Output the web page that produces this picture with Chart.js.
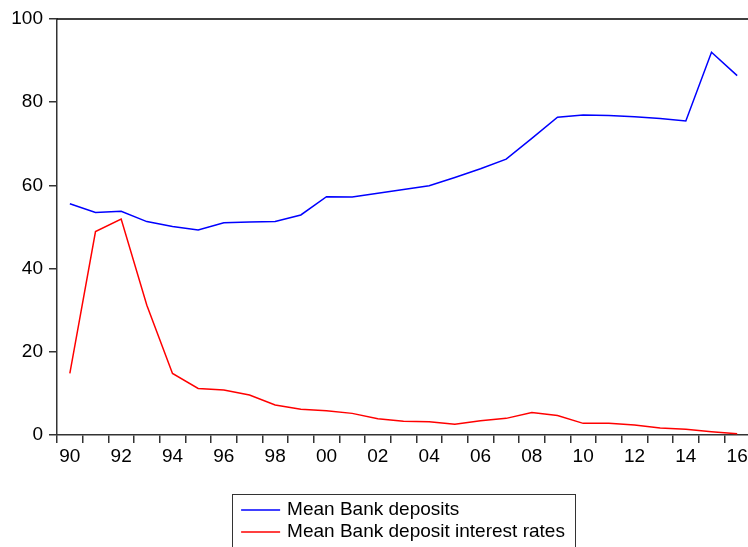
<!DOCTYPE html>
<html>
<head>
<meta charset="utf-8">
<script src="https://cdn.jsdelivr.net/npm/chart.js@4.4.1/dist/chart.umd.min.js"></script>
<style>
  html, body { margin: 0; padding: 0; background: #fff; overflow: hidden; }
  #wrap { position: relative; width: 756px; height: 556px; }
</style>
</head>
<body>
<div id="wrap"><canvas id="c"></canvas></div>
<script>
const years = [1990,1991,1992,1993,1994,1995,1996,1997,1998,1999,2000,2001,2002,2003,2004,2005,2006,2007,2008,2009,2010,2011,2012,2013,2014,2015,2016];
const tickLabels = ['90','','92','','94','','96','','98','','00','','02','','04','','06','','08','','10','','12','','14','','16'];
const meanDeposits = [55.6,53.5,53.8,51.3,50.1,49.3,51.0,51.2,51.3,52.9,57.3,57.2,58.1,59.0,59.9,61.9,64.0,66.3,71.3,76.4,76.9,76.8,76.5,76.1,75.5,92.0,86.4];
const meanRates = [14.8,48.9,51.9,31.2,14.8,11.2,10.8,9.6,7.2,6.2,5.85,5.2,3.9,3.3,3.2,2.6,3.4,4.0,5.4,4.7,2.8,2.8,2.4,1.7,1.4,0.8,0.3];
const seriesNames = ['Mean Bank deposits','Mean Bank deposit interest rates'];
const seriesColors = ['#0000ff','#ff0000'];

const FONT = '"Liberation Sans", Arial, sans-serif';
const FSIZE = 19;

const framePlugin = {
  id: 'frame',
  afterDraw(chart) {
    const {ctx, chartArea: a} = chart;
    ctx.save();
    ctx.strokeStyle = '#000';
    ctx.lineWidth = 1.5;
    ctx.beginPath();
    ctx.moveTo(a.left, a.top);
    ctx.lineTo(a.right, a.top);
    ctx.lineTo(a.right, a.bottom);
    ctx.stroke();
    // legend
    ctx.font = FSIZE + 'px ' + FONT;
    const lineLen = 39, gap = 7, padL = 9, padR = 10;
    let tw = 0;
    seriesNames.forEach(n => { tw = Math.max(tw, ctx.measureText(n).width); });
    const boxW = padL + lineLen + gap + tw + padR;
    const cx = (a.left + a.right) / 2;
    const left = cx - boxW / 2;
    const top = a.bottom + 59;
    ctx.strokeStyle = '#333';
    ctx.lineWidth = 1;
    ctx.strokeRect(Math.round(left) + 0.5, Math.round(top) + 0.5, Math.round(boxW), 80);
    ctx.textBaseline = 'middle';
    ctx.textAlign = 'left';
    seriesNames.forEach((n, i) => {
      const y = top + 16 + i * 22;
      ctx.strokeStyle = seriesColors[i];
      ctx.lineWidth = 1.5;
      ctx.beginPath();
      ctx.moveTo(left + padL, y);
      ctx.lineTo(left + padL + lineLen, y);
      ctx.stroke();
      ctx.fillStyle = '#000';
      ctx.fillText(n, left + padL + lineLen + gap, y);
    });
    ctx.restore();
  }
};

new Chart(document.getElementById('c'), {
  type: 'line',
  data: {
    labels: years,
    datasets: [
      { label: seriesNames[0], data: meanDeposits, borderColor: seriesColors[0], borderWidth: 1.5, pointRadius: 0, tension: 0, fill: false },
      { label: seriesNames[1], data: meanRates, borderColor: seriesColors[1], borderWidth: 1.5, pointRadius: 0, tension: 0, fill: false }
    ]
  },
  options: {
    responsive: true,
    maintainAspectRatio: false,
    animation: false,
    devicePixelRatio: 1,
    layout: { padding: { left: 0, top: 19, right: 6, bottom: 81 } },
    plugins: { legend: { display: false }, tooltip: { enabled: false } },
    scales: {
      x: {
        type: 'category',
        offset: true,
        grid: { offset: true, drawOnChartArea: false, tickLength: 8, color: '#333', lineWidth: 1.5 },
        border: { display: true, color: '#333', width: 1.5 },
        ticks: {
          autoSkip: false, maxRotation: 0, minRotation: 0, padding: 2,
          color: '#000', font: { size: FSIZE, family: FONT },
          callback: (v, i) => tickLabels[i]
        },
        afterFit: s => { s.height = 40; }
      },
      y: {
        min: 0, max: 100,
        grid: { drawOnChartArea: false, tickLength: 8, color: '#333', lineWidth: 1.5 },
        border: { display: true, color: '#333', width: 1.5 },
        ticks: { stepSize: 20, padding: 6, color: '#000', font: { size: FSIZE, family: FONT } },
        afterFit: s => { s.width = 57; }
      }
    }
  },
  plugins: [framePlugin]
});
</script>
</body>
</html>
